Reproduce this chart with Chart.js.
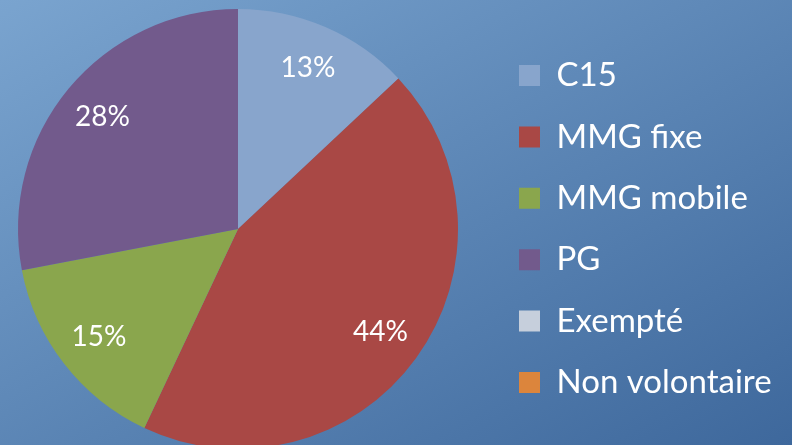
<!DOCTYPE html>
<html lang="fr">
<head>
  <meta charset="UTF-8">
  <title>Répartition</title>
  <script src="https://cdn.jsdelivr.net/npm/chart.js"></script>
  <style>
    html, body { margin: 0; padding: 0; width: 792px; height: 445px; overflow: hidden; }
    body { position: relative; background: linear-gradient(to bottom right, #7aa4cf, #3e689c); font-family: 'Lato', sans-serif; }
    .wrap { position: absolute; left: -32px; top: 0; width: 824px; height: 460px; }
  </style>
</head>
<body>

<div class="wrap"><canvas id="pie"></canvas></div>

<script>
const categories = ['C15', 'MMG fixe', 'MMG mobile', 'PG', 'Exempté', 'Non volontaire'];
const shares = [13, 44, 15, 28, 0, 0];
const sliceColors = ['#88a5cc', '#a94845', '#8aa64d', '#725a8c', '#c6cfdc', '#dc853c'];

const LEGEND_WIDTH = 301.4;

// percent labels drawn at ~80% of the radius, like the original
const pctLabels = {
  id: 'pctLabels',
  beforeUpdate(chart) {
    // keep the legend box a fixed width so the pie sits where it should
    const lg = chart.legend;
    if (lg && !lg._fixedWidth) {
      const fit = lg.fit;
      lg.fit = function () { fit.call(this); this.width = LEGEND_WIDTH; };
      lg._fixedWidth = true;
    }
  },
  afterDatasetsDraw(chart) {
    const ctx = chart.ctx;
    const meta = chart.getDatasetMeta(0);
    ctx.save();
    ctx.font = '28px Lato';
    ctx.fillStyle = '#fff';
    ctx.textAlign = 'center';
    ctx.textBaseline = 'middle';
    meta.data.forEach((arc, i) => {
      if (!shares[i]) return;
      const p = arc.getProps(['x', 'y', 'startAngle', 'endAngle', 'outerRadius'], true);
      const a = (p.startAngle + p.endAngle) / 2;
      const r = p.outerRadius * 0.8;
      ctx.fillText(shares[i] + '%', p.x + Math.cos(a) * r, p.y + Math.sin(a) * r);
    });
    ctx.restore();
  }
};

new Chart(document.getElementById('pie'), {
  type: 'pie',
  data: {
    labels: categories,
    datasets: [{ data: shares, backgroundColor: sliceColors, borderWidth: 0 }]
  },
  options: {
    responsive: true,
    maintainAspectRatio: false,
    animation: false,
    layout: { padding: { left: 17.4, top: 9, bottom: 11, right: 0 } },
    plugins: {
      tooltip: { enabled: false },
      legend: {
        position: 'right',
        labels: {
          color: '#fff',
          boxWidth: 21,
          boxHeight: 21,
          padding: 28.4,
          font: { family: 'Lato', size: 33 }
        }
      }
    }
  },
  plugins: [pctLabels]
});
</script>

</body>
</html>
